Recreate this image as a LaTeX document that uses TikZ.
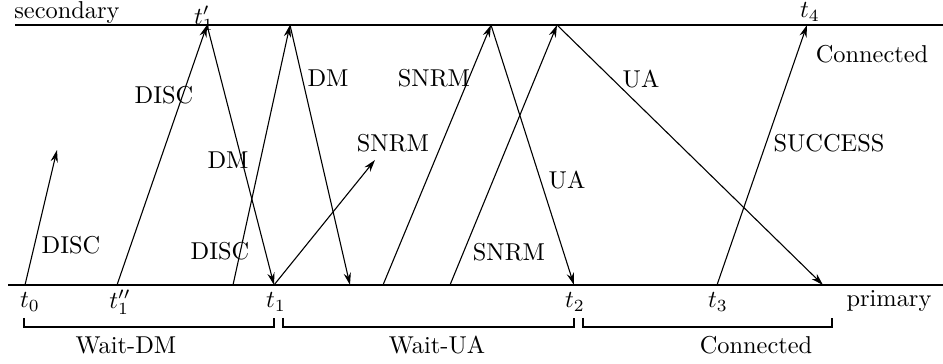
\documentclass[tikz,border=0pt]{standalone}
\usetikzlibrary{arrows.meta}
\begin{document}
\begin{tikzpicture}[x=0.41pt,y=-0.41pt,
  axis/.style={line width=0.6pt},
  msg/.style={line width=0.45pt,-{Stealth[length=5pt,width=3pt]}},
  lbl/.style={inner sep=0pt,font=\normalsize},
  brk/.style={line width=0.6pt}]
\useasboundingbox (0,0) rectangle (943,364);
% axes
\coordinate (sL) at (15,25); \coordinate (sR) at (943,25);
\coordinate (pL) at (8,285); \coordinate (pR) at (943,285);
\draw[axis] (sL) -- (sR);
\draw[axis] (pL) -- (pR);
% points on primary
\coordinate (p0) at (25,285);
\coordinate (p1pp) at (117,285);
\coordinate (p1) at (274,285);
\coordinate (pa) at (233,285);
\coordinate (pb) at (350,285);
\coordinate (pc) at (383,285);
\coordinate (pd) at (450,285);
\coordinate (p2) at (574,285);
\coordinate (p3) at (717,285);
\coordinate (pe) at (823,285);
% points on secondary
\coordinate (s1) at (207,25);
\coordinate (sa) at (290,25);
\coordinate (sb) at (491,25);
\coordinate (sc) at (557,25);
\coordinate (s4) at (807,25);
% free ends
\coordinate (f0) at (57,150);
\coordinate (f1) at (375,160);
% messages
\draw[msg] (p0) -- (f0);
\draw[msg] (p1pp) -- (s1);
\draw[msg] (s1) -- (p1);
\draw[msg] (pa) -- (sa);
\draw[msg] (sa) -- (pb);
\draw[msg] (p1) -- (f1);
\draw[msg] (pc) -- (sb);
\draw[msg] (sb) -- (p2);
\draw[msg] (pd) -- (sc);
\draw[msg] (sc) -- (pe);
\draw[msg] (p3) -- (s4);
% labels
\node[lbl] (secondary) at (67,13) {secondary};
\node[lbl] (lt1p) at (204,18) {$t_1'$};
\node[lbl] (lt4) at (810,12) {$t_4$};
\node[lbl] (conn1) at (872,54) {Connected};
\node[lbl] (m1) at (71,245) {DISC};
\node[lbl] (m2) at (164,95) {DISC};
\node[lbl] (m3) at (228,160) {DM};
\node[lbl] (m4) at (220,251) {DISC};
\node[lbl] (m5) at (328,78) {DM};
\node[lbl] (m6) at (393,143) {SNRM};
\node[lbl] (m7) at (434,78) {SNRM};
\node[lbl] (m8) at (567,180) {UA};
\node[lbl] (m9) at (509,252) {SNRM};
\node[lbl] (m10) at (641,79) {UA};
\node[lbl] (m11) at (829,143) {SUCCESS};
\node[lbl] (lt0) at (30,302) {$t_0$};
\node[lbl] (lt1pp) at (120,302) {$t_1''$};
\node[lbl] (lt1) at (276,302) {$t_1$};
\node[lbl] (lt2) at (575,302) {$t_2$};
\node[lbl] (lt3) at (718,302) {$t_3$};
\node[lbl] (primary) at (889,301) {primary};
% brackets
\coordinate (b1a) at (24,318); \coordinate (b1b) at (274,318);
\coordinate (b2a) at (283,318); \coordinate (b2b) at (574,318);
\coordinate (b3a) at (583,318); \coordinate (b3b) at (832,318);
\draw[brk] (b1a) -- ++(0,9) -| (b1b);
\draw[brk] (b2a) -- ++(0,9) -| (b2b);
\draw[brk] (b3a) -- ++(0,9) -| (b3b);
\node[lbl] (w1) at (126,345) {Wait-DM};
\node[lbl] (w2) at (437,345) {Wait-UA};
\node[lbl] (w3) at (756,345) {Connected};
\end{tikzpicture}
\end{document}
